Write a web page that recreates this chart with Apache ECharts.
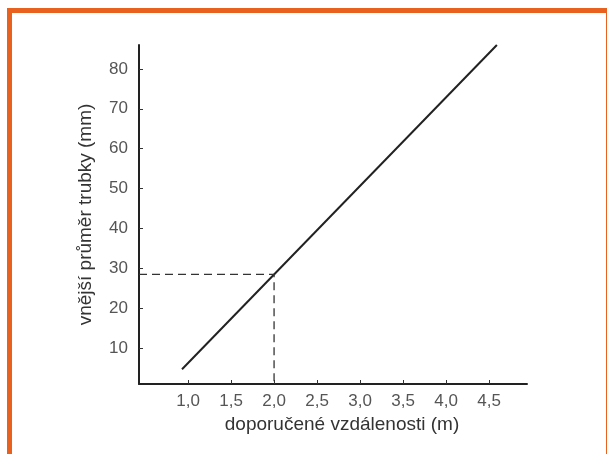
<!DOCTYPE html>
<html>
<head>
<meta charset="utf-8">
<script src="https://cdn.jsdelivr.net/npm/echarts@6/dist/echarts.min.js"></script>
<style>
  html, body { margin: 0; padding: 0; background: #fff; }
  .frame {
    position: absolute; left: 7px; top: 8px; width: 594px; height: 460px;
    border: 5px solid #e8611e; border-bottom: none; background: #fff;
  }
  #chart { position: absolute; left: 0; top: 0; width: 607px; height: 454px; }
</style>
</head>
<body>
<div class="frame"></div>
<div id="chart"></div>
<script>
  // data
  var xTicks = [1.0, 1.5, 2.0, 2.5, 3.0, 3.5, 4.0, 4.5]
  var yTicks = [10, 20, 30, 40, 50, 60, 70, 80]
  var lineX = [0.93, 4.59]
  var lineY = [4.7, 86]
  var guideX = 2.0
  var guideY = 28.5

  var xMin = 0.43, xMax = 4.94
  var yMin = 1, yMax = 86

  var chart = echarts.init(document.getElementById('chart'))
  var font = 'Liberation Sans, Arial, sans-serif'

  var option = {
    animation: false,
    grid: { left: 139, right: 80, top: 45, bottom: 70 },
    xAxis: {
      type: 'value',
      min: xMin,
      max: xMax,
      name: 'doporučené vzdálenosti (m)',
      nameLocation: 'middle',
      nameGap: 29,
      nameTextStyle: { color: '#333', fontSize: 19, fontFamily: font, padding: [0, 0, 0, 18] },
      axisLine: { lineStyle: { color: '#222', width: 2 } },
      axisTick: { show: true, inside: true, length: 4, customValues: xTicks, lineStyle: { color: '#333' } },
      axisLabel: {
        customValues: xTicks,
        color: '#555',
        fontSize: 17,
        fontFamily: font,
        margin: 9,
        formatter: function (v) { return v.toFixed(1).replace('.', ',') }
      },
      splitLine: { show: false }
    },
    yAxis: {
      type: 'value',
      min: yMin,
      max: yMax,
      name: 'vnější průměr trubky (mm)',
      nameLocation: 'middle',
      nameGap: 44,
      nameTextStyle: { color: '#333', fontSize: 19, fontFamily: font },
      axisLine: { show: true, lineStyle: { color: '#222', width: 2 } },
      axisTick: { show: true, inside: true, length: 4, customValues: yTicks, lineStyle: { color: '#333' } },
      axisLabel: { customValues: yTicks, color: '#555', fontSize: 17, fontFamily: font, margin: 11 },
      splitLine: { show: false }
    },
    series: [
      {
        type: 'line',
        symbol: 'none',
        data: [[lineX[0], lineY[0]], [lineX[1], lineY[1]]],
        lineStyle: { color: '#222', width: 2 }
      },
      {
        type: 'line',
        symbol: 'none',
        data: [[xMin, guideY], [guideX, guideY], [guideX, yMin]],
        lineStyle: { color: '#333', width: 1.3, type: [8, 5] }
      }
    ]
  }

  chart.setOption(option)
</script>
</body>
</html>
